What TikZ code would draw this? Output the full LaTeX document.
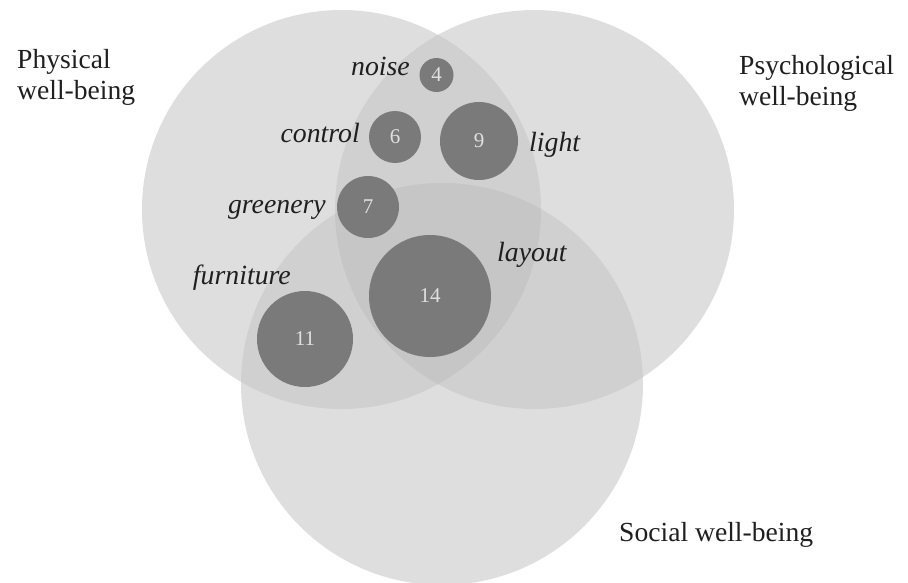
\documentclass[tikz,border=0pt]{standalone}
\usepackage{fontspec}
\setmainfont{Liberation Serif}
\definecolor{one}{gray}{0.870}
\definecolor{two}{gray}{0.815}
\definecolor{three}{gray}{0.775}
\definecolor{dotgray}{gray}{0.48}
\definecolor{numgray}{gray}{0.88}
\definecolor{txt}{gray}{0.12}
\tikzset{
  dot/.style={circle, inner sep=0pt, fill=dotgray, text=numgray, font=\fontsize{21}{21}\selectfont},
  factor/.style={text=txt, font=\fontsize{27.8}{28}\selectfont\itshape, inner sep=0pt},
  title/.style={text=txt, font=\fontsize{27.6}{31}\selectfont, align=left, inner sep=0pt}
}
\begin{document}
\begin{tikzpicture}[x=1pt,y=-1pt]
\useasboundingbox (0,0) rectangle (908,582);
% big circles
\fill[one] (341.5,209.5) circle (199.5pt);
\fill[one] (534.5,209.5) circle (199.5pt);
\fill[one] (442,384) circle (201pt);
% pairwise overlaps
\begin{scope}
  \clip (341.5,209.5) circle (199.5pt);
  \fill[two] (534.5,209.5) circle (199.5pt);
  \fill[two] (442,384) circle (201pt);
\end{scope}
\begin{scope}
  \clip (534.5,209.5) circle (199.5pt);
  \fill[two] (442,384) circle (201pt);
\end{scope}
% triple overlap
\begin{scope}
  \clip (341.5,209.5) circle (199.5pt);
  \clip (534.5,209.5) circle (199.5pt);
  \fill[three] (442,384) circle (201pt);
\end{scope}
% small circles
\node[dot, minimum size=34pt] (c4) at (436.5,75) {4};
\node[dot, minimum size=52pt] (c6) at (395,137) {6};
\node[dot, minimum size=78pt] (c9) at (479,141) {9};
\node[dot, minimum size=62pt] (c7) at (368,207) {7};
\node[dot, minimum size=122pt] (c14) at (430,296) {14};
\node[dot, minimum size=96pt] (c11) at (305,339) {11};
% factor labels
\node[factor, anchor=base east] (lnoise) at (410,75) {noise};
\node[factor, anchor=base east] (lcontrol) at (360,142) {control};
\node[factor, anchor=base east] (lgreen) at (326,213) {greenery};
\node[factor, anchor=base east] (lfurn) at (291,284) {furniture};
\node[factor, anchor=base west] (llight) at (529,151) {light};
\node[factor, anchor=base west] (llayout) at (497,261) {layout};
% titles
\node[title, anchor=base west] (tphys) at (17,68) {Physical};
\node[title, anchor=base west] (tphys2) at (17,99) {well-being};
\node[title, anchor=base west] (tpsy) at (739,74) {Psychological};
\node[title, anchor=base west] (tpsy2) at (739,105) {well-being};
\node[title, anchor=base west] (tsoc) at (619,541) {Social well-being};
\end{tikzpicture}
\end{document}
